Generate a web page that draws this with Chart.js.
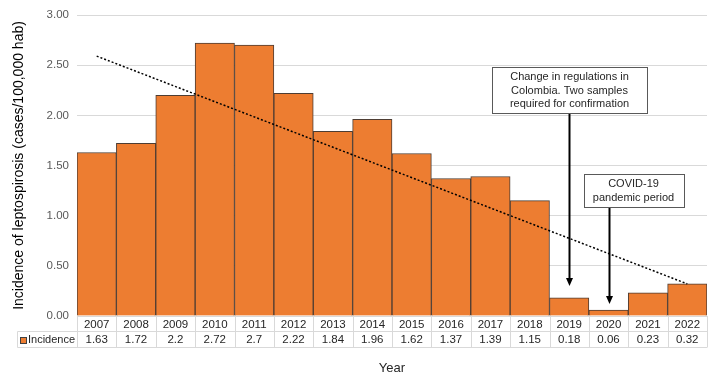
<!DOCTYPE html>
<html>
<head>
<meta charset="utf-8">
<script src="https://cdn.jsdelivr.net/npm/chart.js@4"></script>
<style>
  html, body { margin: 0; padding: 0; background: #fff; }
  #wrap { width: 719px; height: 379px; position: relative; }
</style>
</head>
<body>
<div id="wrap"><canvas id="chart"></canvas></div>
<script>
const years = ['2007','2008','2009','2010','2011','2012','2013','2014','2015','2016','2017','2018','2019','2020','2021','2022'];
const incidence = [1.63, 1.72, 2.2, 2.72, 2.7, 2.22, 1.84, 1.96, 1.62, 1.37, 1.39, 1.15, 0.18, 0.06, 0.23, 0.32];
// trend line read at first and last year, gap spanned
const trend = [2.59, null, null, null, null, null, null, null, null, null, null, null, null, null, null, 0.32];
const yTicks = [0, 0.5, 1, 1.5, 2, 2.5, 3];

const notes = [
  { year: '2019', lines: ['Change in regulations in', 'Colombia. Two samples', 'required for confirmation'], top: 2.48, bottom: 2.02, width: 155, shift: 0, tip: 0.30 },
  { year: '2020', lines: ['COVID-19', 'pandemic period'], top: 1.42, bottom: 1.09, width: 100, shift: 0.61, tip: 0.12 }
];

const gridColor = '#d9d9d9';
const font = "'Liberation Sans', Arial, sans-serif";

const tablePlugin = {
  id: 'dataTable',
  afterDraw(chart) {
    const ctx = chart.ctx;
    const x = chart.scales.x;
    const area = chart.chartArea;
    const half = (x.getPixelForValue(1) - x.getPixelForValue(0)) / 2;
    const top = area.bottom;
    const mid = Math.round(top + 15) + 0.5;
    const bot = Math.round(top + 31) + 0.5;
    ctx.save();
    ctx.strokeStyle = gridColor;
    ctx.lineWidth = 1;
    ctx.beginPath();
    for (let i = 0; i <= years.length; i++) {
      const px = Math.round(x.getPixelForValue(i) - half) + 0.5;
      ctx.moveTo(px, top);
      ctx.lineTo(px, bot);
    }
    ctx.moveTo(17.5, mid); ctx.lineTo(area.right, mid);
    ctx.moveTo(17.5, bot); ctx.lineTo(area.right, bot);
    ctx.moveTo(17.5, mid); ctx.lineTo(17.5, bot);
    ctx.stroke();

    const rowY = (mid + bot) / 2;
    ctx.fillStyle = '#262626';
    ctx.font = '11.5px ' + font;
    ctx.textAlign = 'center';
    ctx.textBaseline = 'middle';
    incidence.forEach((v, i) => {
      ctx.fillText(String(v), x.getPixelForValue(i), rowY);
    });
    // legend key
    ctx.fillStyle = '#ED7D31';
    ctx.fillRect(20.5, Math.round(rowY - 3) + 0.5, 6, 6);
    ctx.strokeStyle = '#404040';
    ctx.strokeRect(20.5, Math.round(rowY - 3) + 0.5, 6, 6);
    ctx.fillStyle = '#262626';
    ctx.font = '11px ' + font;
    ctx.textAlign = 'left';
    ctx.fillText('Incidence', 28, rowY);
    ctx.restore();
  }
};

const notePlugin = {
  id: 'notes',
  afterDatasetsDraw(chart) {
    const ctx = chart.ctx;
    const x = chart.scales.x;
    const y = chart.scales.y;
    const step = x.getPixelForValue(1) - x.getPixelForValue(0);
    ctx.save();
    notes.forEach(n => {
      const ax = Math.round(x.getPixelForValue(years.indexOf(n.year))) + 0.5;
      const cx = ax + n.shift * step;
      const bt = Math.round(y.getPixelForValue(n.top)) + 0.5;
      const bb = Math.round(y.getPixelForValue(n.bottom)) + 0.5;
      const bl = Math.round(cx - n.width / 2) + 0.5;
      const tip = y.getPixelForValue(n.tip);
      // arrow
      ctx.strokeStyle = '#000';
      ctx.lineWidth = 2;
      ctx.beginPath();
      ctx.moveTo(ax, bb);
      ctx.lineTo(ax, tip - 6);
      ctx.stroke();
      ctx.fillStyle = '#000';
      ctx.beginPath();
      ctx.moveTo(ax - 3.5, tip - 8);
      ctx.lineTo(ax + 3.5, tip - 8);
      ctx.lineTo(ax, tip);
      ctx.closePath();
      ctx.fill();
      // box
      ctx.fillStyle = '#fff';
      ctx.fillRect(bl, bt, n.width, bb - bt);
      ctx.strokeStyle = '#595959';
      ctx.lineWidth = 1;
      ctx.strokeRect(bl, bt, n.width, bb - bt);
      ctx.fillStyle = '#262626';
      ctx.font = '11px ' + font;
      ctx.textAlign = 'center';
      ctx.textBaseline = 'middle';
      const lh = 13.3;
      const start = (bt + bb) / 2 - (n.lines.length - 1) * lh / 2;
      n.lines.forEach((t, i) => ctx.fillText(t, cx, start + i * lh));
    });
    ctx.restore();
  }
};

new Chart(document.getElementById('chart'), {
  type: 'bar',
  data: {
    labels: years,
    datasets: [
      {
        type: 'line',
        label: 'Trend',
        data: trend,
        spanGaps: true,
        borderColor: '#000',
        borderWidth: 1.5,
        borderDash: [2, 2],
        pointRadius: 0,
        fill: false,
        order: 0
      },
      {
        label: 'Incidence',
        data: incidence,
        backgroundColor: '#ED7D31',
        borderColor: '#4d3d33',
        borderWidth: 1,
        barPercentage: 1,
        categoryPercentage: 1,
        order: 1
      }
    ]
  },
  options: {
    responsive: true,
    maintainAspectRatio: false,
    animation: false,
    layout: { padding: { top: 15, right: 12, bottom: 3, left: 11 } },
    plugins: {
      legend: { display: false },
      tooltip: { enabled: false }
    },
    scales: {
      x: {
        afterFit: (scale) => { scale.height = 60; },
        grid: { display: false, tickLength: 0 },
        border: { display: true, color: gridColor },
        ticks: {
          color: '#262626',
          font: { family: font, size: 11.5 },
          padding: 2,
          maxRotation: 0,
          autoSkip: false
        },
        title: {
          display: true,
          text: 'Year',
          color: '#262626',
          font: { family: font, size: 13 },
          padding: { top: 0, bottom: 0 }
        }
      },
      y: {
        min: 0,
        max: 3,
        afterBuildTicks: (scale) => { scale.ticks = yTicks.map(v => ({ value: v })); },
        afterFit: (scale) => { scale.width = 66; },
        grid: { color: gridColor, drawTicks: false },
        border: { display: false },
        ticks: {
          color: '#595959',
          font: { family: font, size: 11.5 },
          padding: 8,
          callback: (v) => Number(v).toFixed(2)
        },
        title: {
          display: true,
          text: 'Incidence of leptospirosis (cases/100,000 hab)',
          color: '#000',
          font: { family: font, size: 14 },
          padding: { top: 0, bottom: 0 }
        }
      }
    }
  },
  plugins: [tablePlugin, notePlugin]
});
</script>
</body>
</html>
